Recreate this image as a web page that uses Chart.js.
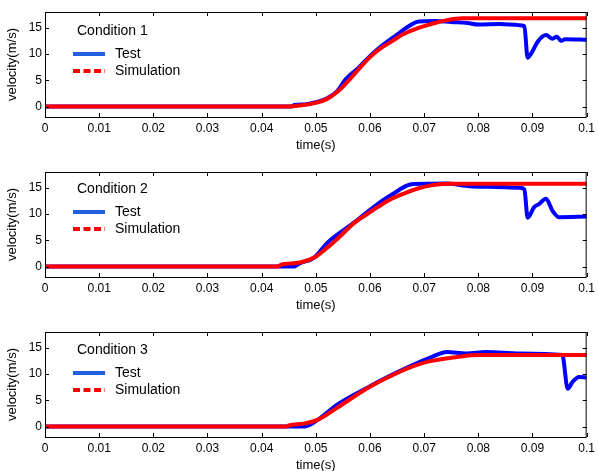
<!DOCTYPE html>
<html lang="en">
<head>
<meta charset="UTF-8" />
<title>Velocity vs time</title>
<script src="https://cdn.jsdelivr.net/npm/chart.js"></script>
<style>
  body { margin: 0; background: #fff; overflow: hidden; }
  .panel { position: absolute; left: 0; width: 599px; height: 160px; }
</style>
</head>
<body>
<div class="panel" style="top:0px"><canvas id="c1" width="599" height="160"></canvas></div>
<div class="panel" style="top:160px"><canvas id="c2" width="599" height="160"></canvas></div>
<div class="panel" style="top:320px"><canvas id="c3" width="599" height="160"></canvas></div>

<script>
  // x ticks and y ticks
  const xTicks = [0, 0.01, 0.02, 0.03, 0.04, 0.05, 0.06, 0.07, 0.08, 0.09, 0.1];
  const yTicks = [0, 5, 10, 15];
  const conditions = ['Condition 1', 'Condition 2', 'Condition 3'];

  // Condition 1
  const test1T = [0, 0.0455, 0.046, 0.048, 0.05, 0.052, 0.054, 0.0555, 0.058, 0.06, 0.062, 0.065, 0.067, 0.069, 0.072, 0.075, 0.078, 0.08, 0.084, 0.0875, 0.0885, 0.0891, 0.0897, 0.091, 0.0925, 0.0937, 0.0945, 0.0953, 0.096, 0.1];
  const test1V = [0, 0, 0.3, 0.4, 0.8, 1.5, 3.0, 5.2, 7.5, 9.6, 11.4, 13.7, 15.2, 16.2, 16.3, 16.1, 15.9, 15.6, 15.7, 15.5, 15.3, 9.3, 10.0, 12.4, 13.6, 12.9, 13.3, 12.5, 12.8, 12.7];
  const sim1T = [0, 0.045, 0.047, 0.05, 0.052, 0.054, 0.056, 0.058, 0.06, 0.062, 0.064, 0.066, 0.068, 0.07, 0.072, 0.074, 0.077, 0.1];
  const sim1V = [0, 0, 0.2, 0.7, 1.4, 2.8, 4.9, 7.2, 9.4, 11.1, 12.4, 13.7, 14.6, 15.3, 15.9, 16.4, 16.8, 16.8];

  // Condition 2
  const test2T = [0, 0.046, 0.047, 0.0497, 0.0522, 0.0571, 0.0614, 0.0645, 0.0668, 0.068, 0.074, 0.0784, 0.082, 0.0876, 0.0885, 0.0891, 0.0903, 0.0912, 0.0925, 0.0937, 0.0949, 0.1];
  const test2V = [0, 0, 0.6, 1.7, 4.6, 8.4, 11.9, 14.0, 15.4, 15.7, 15.8, 15.3, 15.2, 15.0, 14.7, 9.3, 11.3, 11.9, 12.9, 10.6, 9.4, 9.5];
  const sim2T = [0, 0.043, 0.0435, 0.045, 0.0473, 0.0497, 0.052, 0.054, 0.0571, 0.0595, 0.0614, 0.064, 0.0668, 0.069, 0.0711, 0.0742, 0.1];
  const sim2V = [0, 0, 0.3, 0.55, 0.8, 1.7, 3.5, 5.3, 8.3, 10.0, 11.3, 12.9, 14.1, 14.9, 15.4, 15.75, 15.75];

  // Condition 3
  const test3T = [0, 0.048, 0.0504, 0.054, 0.0595, 0.065, 0.0711, 0.0742, 0.0778, 0.0815, 0.0876, 0.0955, 0.0965, 0.0974, 0.0986, 0.1];
  const test3V = [0, 0, 1.3, 4.2, 7.4, 10.3, 13.1, 14.2, 13.9, 14.2, 13.9, 13.6, 7.2, 8.5, 9.45, 9.3];
  const sim3T = [0, 0.0445, 0.045, 0.048, 0.0504, 0.054, 0.0595, 0.065, 0.068, 0.0711, 0.0772, 0.08, 0.1];
  const sim3V = [0, 0, 0.2, 0.6, 1.3, 3.6, 7.3, 10.2, 11.5, 12.45, 13.4, 13.6, 13.6];

  const testSets = [[test1T, test1V], [test2T, test2V], [test3T, test3V]];
  const simSets = [[sim1T, sim1V], [sim2T, sim2V], [sim3T, sim3V]];

  const pts = (t, v) => t.map((x, i) => ({ x: x, y: v[i] }));

  // box, inward ticks and legend
  const framePlugin = {
    id: 'frame',
    afterDraw(chart) {
      const ctx = chart.ctx;
      const a = chart.chartArea;
      const xs = chart.scales.x, ys = chart.scales.y;
      ctx.save();
      ctx.strokeStyle = '#000';
      ctx.lineWidth = 1;
      ctx.strokeRect(a.left + 0.5, a.top + 0.5, a.right - a.left - 1, a.bottom - a.top);
      ctx.beginPath();
      xTicks.forEach(v => {
        const px = Math.round(xs.getPixelForValue(v)) + 0.5;
        ctx.moveTo(px, a.bottom); ctx.lineTo(px, a.bottom - 4);
        ctx.moveTo(px, a.top); ctx.lineTo(px, a.top + 4);
      });
      yTicks.forEach(v => {
        const py = Math.round(ys.getPixelForValue(v)) + 0.5;
        ctx.moveTo(a.left, py); ctx.lineTo(a.left + 4, py);
        ctx.moveTo(a.right, py); ctx.lineTo(a.right - 4, py);
      });
      ctx.stroke();

      // legend
      const opts = chart.options.plugins.frame;
      const test = chart.data.datasets[0], sim = chart.data.datasets[1];
      ctx.fillStyle = '#000';
      ctx.font = '14px "Liberation Sans", Arial, sans-serif';
      ctx.textBaseline = 'middle';
      ctx.fillText(opts.label, 77, opts.y0);
      ctx.fillText(test.label, 115, opts.y0 + 23);
      ctx.fillText(sim.label, 115, opts.y0 + 40);
      ctx.lineWidth = 4;
      ctx.strokeStyle = '#2060e0';
      ctx.beginPath();
      ctx.moveTo(73, opts.y0 + 23); ctx.lineTo(105, opts.y0 + 23);
      ctx.stroke();
      ctx.strokeStyle = sim.borderColor;
      ctx.setLineDash([7, 3.5]);
      ctx.beginPath();
      ctx.moveTo(73, opts.y0 + 40); ctx.lineTo(105, opts.y0 + 40);
      ctx.stroke();
      ctx.restore();
    }
  };

  const legendY = [31, 29, 30];
  const font = { family: '"Liberation Sans", Arial', size: 12 };
  const titleFont = { family: '"Liberation Sans", Arial', size: 13 };

  ['c1', 'c2', 'c3'].forEach((id, k) => {
    new Chart(document.getElementById(id).getContext('2d'), {
      type: 'line',
      data: {
        datasets: [{
          label: 'Test',
          data: pts(testSets[k][0], testSets[k][1]),
          borderColor: '#0000ff',
          borderWidth: 4,
          pointRadius: 0,
          order: 1,
          cubicInterpolationMode: 'monotone'
        }, {
          label: 'Simulation',
          data: pts(simSets[k][0], simSets[k][1]),
          borderColor: '#ff0000',
          borderWidth: 4,
          pointRadius: 0,
          order: 0,
          cubicInterpolationMode: 'monotone'
        }]
      },
      options: {
        responsive: false,
        animation: false,
        events: [],
        layout: { padding: { top: 12, right: 8, left: 0, bottom: 0 } },
        plugins: {
          legend: { display: false },
          tooltip: { enabled: false },
          frame: { label: conditions[k], y0: legendY[k] }
        },
        scales: {
          x: {
            type: 'linear',
            min: 0, max: 0.1,
            afterBuildTicks: s => { s.ticks = xTicks.map(v => ({ value: v })); },
            afterFit: s => { s.height = 43; },
            grid: { display: false, drawTicks: false },
            border: { display: false },
            ticks: {
              color: '#000',
              padding: 4,
              maxRotation: 0,
              font: font,
              callback: v => String(+v.toFixed(2))
            },
            title: {
              display: true, text: 'time(s)', color: '#000',
              padding: { top: 0, bottom: 7 },
              font: titleFont
            }
          },
          y: {
            min: -2, max: 18,
            afterBuildTicks: s => { s.ticks = yTicks.map(v => ({ value: v })); },
            afterFit: s => { s.width = 45; },
            grid: { display: false, drawTicks: false },
            border: { display: false },
            ticks: {
              color: '#000',
              padding: 3,
              font: font
            },
            title: {
              display: true, text: 'velocity(m/s)', color: '#000',
              padding: { top: 5, bottom: 0 },
              font: titleFont
            }
          }
        }
      },
      plugins: [framePlugin]
    });
  });
</script>
</body>
</html>
